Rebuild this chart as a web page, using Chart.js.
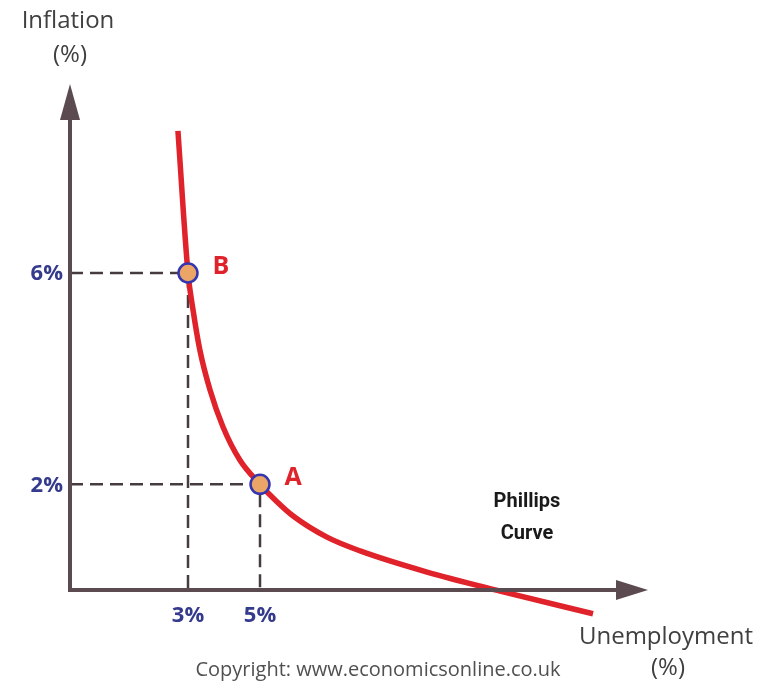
<!DOCTYPE html>
<html>
<head>
<meta charset="utf-8">
<script src="https://cdn.jsdelivr.net/npm/chart.js@4"></script>
<style>
  html, body { margin: 0; padding: 0; background: #ffffff; }
  canvas { display: block; }
</style>
</head>
<body>
<canvas id="phillips" width="768" height="683"></canvas>
<script>
// curve (unemployment %, inflation %)
const curvaX = [2.72, 3, 3.14, 3.33, 3.61, 3.97, 4.44, 5, 5.47, 5.92, 6.86, 7.78, 9.64, 11.67, 14.25];
const curvaY = [8.69, 6, 5.3, 4.54, 3.79, 3.09, 2.46, 2, 1.67, 1.4, 1.0, 0.74, 0.34, -0.02, -0.45];

// marked points
const puntosNombre = ["B", "A"];
const puntosX = [3, 5];
const puntosY = [6, 2];

// tick labels
const ticksX = [3, 5];
const ticksY = [6, 2];

const xMin = -0.278, xMax = 15.833;
const yMin = -0.568, yMax = 9.653;

const ejeColor = "#5b4a50";
const azul = "#343a8c";
const rojo = "#e0222a";

const guias = [];
puntosX.forEach((px, i) => {
  guias.push({
    type: "line",
    data: [
      { x: xMin, y: puntosY[i] },
      { x: px, y: puntosY[i] },
      { x: px, y: 0 },
    ],
    borderColor: "#463c3e",
    borderWidth: 2.5,
    borderDash: [13, 7],
    pointRadius: 0,
    tension: 0,
    fill: false,
    order: 3,
  });
});

const plugin_ejes = {
  id: "ejes",
  afterDatasetsDraw: (chart) => {
    const ctx = chart.ctx;
    const x = chart.scales.x;
    const y = chart.scales.y;
    const ox = x.getPixelForValue(xMin);
    const oy = y.getPixelForValue(0);
    ctx.save();
    ctx.strokeStyle = ejeColor;
    ctx.fillStyle = ejeColor;
    ctx.lineWidth = 4;
    ctx.lineCap = "butt";
    // y axis
    ctx.beginPath();
    ctx.moveTo(ox, oy + 2);
    ctx.lineTo(ox, 115);
    ctx.stroke();
    ctx.beginPath();
    ctx.moveTo(ox, 84);
    ctx.lineTo(ox - 10, 120);
    ctx.lineTo(ox + 10, 120);
    ctx.closePath();
    ctx.fill();
    // x axis
    ctx.beginPath();
    ctx.moveTo(ox - 2, oy);
    ctx.lineTo(620, oy);
    ctx.stroke();
    ctx.beginPath();
    ctx.moveTo(648, oy);
    ctx.lineTo(616, oy - 10);
    ctx.lineTo(616, oy + 10);
    ctx.closePath();
    ctx.fill();
    ctx.restore();
  },
  afterDraw: (chart) => {
    const ctx = chart.ctx;
    const x = chart.scales.x;
    const y = chart.scales.y;
    ctx.save();
    // tick labels
    ctx.fillStyle = azul;
    ctx.font = "bold 22px 'Open Sans', 'DejaVu Sans', sans-serif";
    ctx.textBaseline = "middle";
    ctx.textAlign = "right";
    ticksY.forEach((v) => ctx.fillText(v + "%", 63, y.getPixelForValue(v) + 1));
    ctx.textAlign = "center";
    ticksX.forEach((v) => ctx.fillText(v + "%", x.getPixelForValue(v), 616));
    // point letters
    ctx.fillStyle = rojo;
    ctx.font = "bold 25px 'Open Sans', 'DejaVu Sans', sans-serif";
    puntosNombre.forEach((n, i) => {
      ctx.fillText(n, x.getPixelForValue(puntosX[i]) + 33, y.getPixelForValue(puntosY[i]) - 6);
    });
    // axis titles
    ctx.fillStyle = "#404040";
    ctx.font = "24px 'Open Sans', 'Lato', sans-serif";
    ctx.fillText("Inflation", 68, 21);
    ctx.fillText("(%)", 70, 55);
    ctx.fillText("Unemployment", 666, 637);
    ctx.fillText("(%)", 668, 668);
    // curve label
    ctx.fillStyle = "#1a1a1a";
    ctx.font = "bold 20px 'Liberation Sans Narrow', 'Roboto', sans-serif";
    ctx.fillText("Phillips", 527, 502);
    ctx.fillText("Curve", 527, 534);
    // copyright
    ctx.fillStyle = "#505050";
    ctx.font = "20px 'Open Sans', 'Lato', sans-serif";
    ctx.fillText("Copyright: www.economicsonline.co.uk", 378, 670);
    ctx.restore();
  },
};

const ctx = document.getElementById("phillips").getContext("2d");
const chart_phillips = new Chart(ctx, {
  type: "scatter",
  data: {
    datasets: [
      {
        type: "line",
        label: "Phillips Curve",
        data: curvaX.map((v, i) => ({ x: v, y: curvaY[i] })),
        borderColor: rojo,
        borderWidth: 5.5,
        pointRadius: 0,
        cubicInterpolationMode: "monotone",
        fill: false,
        order: 2,
      },
      {
        label: "Puntos",
        data: puntosX.map((v, i) => ({ x: v, y: puntosY[i] })),
        backgroundColor: "#eba667",
        borderColor: "#3535b0",
        borderWidth: 2.5,
        pointRadius: 9.5,
        order: 1,
      },
      ...guias,
    ],
  },
  options: {
    responsive: false,
    animation: false,
    layout: {
      padding: { left: 70, right: 118, top: 80, bottom: 63 },
    },
    scales: {
      x: { type: "linear", min: xMin, max: xMax, display: false },
      y: { type: "linear", min: yMin, max: yMax, display: false },
    },
    plugins: {
      legend: { display: false },
      tooltip: { enabled: false },
    },
  },
  plugins: [plugin_ejes],
});
</script>
</body>
</html>
